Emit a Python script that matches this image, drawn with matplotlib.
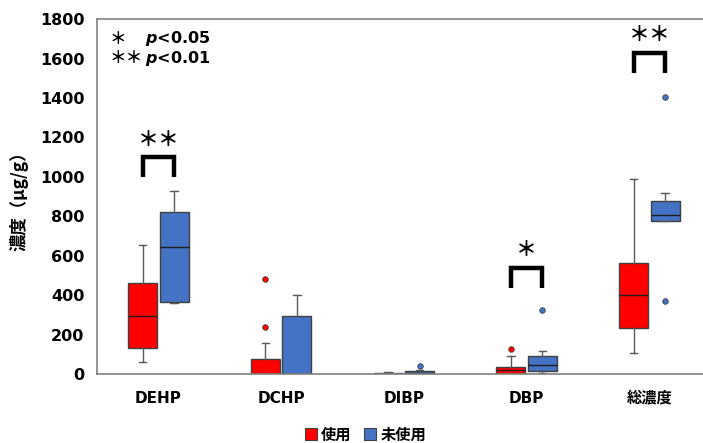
import matplotlib
matplotlib.use("Agg")
import matplotlib.pyplot as plt
from matplotlib.patches import Patch

plt.rcParams['font.family'] = ['DejaVu Sans', 'Noto Sans CJK JP']

categories = ['DEHP', 'DCHP', 'DIBP', 'DBP', '総濃度']
groups = ['使用', '未使用']

# 使用 (used)
used_whislo = [62, 0, 0, 0, 105]
used_q1 = [133, 0, 0, 2, 232]
used_med = [296, 2, 2, 18, 399]
used_q3 = [463, 74, 5, 35, 561]
used_whishi = [654, 156, 12, 90, 987]
used_fliers = [[], [238, 483], [], [127], []]

# 未使用 (unused)
unused_whislo = [358, 0, 0, 3, 774]
unused_q1 = [367, 0, 2, 15, 777]
unused_med = [642, 2, 6, 44, 806]
unused_q3 = [821, 294, 15, 90, 877]
unused_whishi = [930, 402, 20, 115, 919]
unused_fliers = [[], [], [42], [323], [370, 1403]]

# significance brackets: (category index, bracket top value, label)
sig_cats = [0, 3, 4]
sig_tops = [1099, 537, 1629]
sig_labels = ['＊＊', '＊', '＊＊']

yticks = [0, 200, 400, 600, 800, 1000, 1200, 1400, 1600, 1800]

RED = '#FF0000'
BLUE = '#4472C4'
EDGE = '#404040'

fig = plt.figure(figsize=(7.03, 4.43), dpi=100)
ax = fig.add_axes([0.138, 0.1558, 0.873, 0.801])

def stats(wl, q1, med, q3, wh, fl):
    return [dict(whislo=a, q1=b, med=c, q3=d, whishi=e, fliers=f)
            for a, b, c, d, e, f in zip(wl, q1, med, q3, wh, fl)]

off = 0.128
w = 0.236
xs = list(range(len(categories)))
for st, color, sign in [
        (stats(used_whislo, used_q1, used_med, used_q3, used_whishi, used_fliers), RED, -1),
        (stats(unused_whislo, unused_q1, unused_med, unused_q3, unused_whishi, unused_fliers), BLUE, 1)]:
    ax.bxp(st, positions=[x + sign * off for x in xs], widths=w, patch_artist=True,
           showfliers=True, capwidths=0.06,
           boxprops=dict(facecolor=color, edgecolor=EDGE, linewidth=1.0),
           medianprops=dict(color='#202020', linewidth=1.0),
           whiskerprops=dict(color='#595959', linewidth=1.0),
           capprops=dict(color='#595959', linewidth=1.0),
           flierprops=dict(marker='o', markerfacecolor=color, markeredgecolor=EDGE,
                           markersize=4, markeredgewidth=0.6))

ax.set_xlim(-0.5, 4.5)
ax.set_ylim(0, 1800)
ax.set_yticks(yticks)
ax.set_yticklabels([str(v) for v in yticks], fontsize=11.5, fontweight='bold')
ax.set_xticks(xs)
ax.set_xticklabels(categories, fontsize=11, fontweight='bold',
                   family=['DejaVu Sans', 'Noto Sans CJK JP'])
ax.tick_params(axis='both', length=0, pad=9)
ax.tick_params(axis='x', pad=12)
for s in ['left', 'top', 'bottom', 'right']:
    ax.spines[s].set_color('#808080')
    ax.spines[s].set_linewidth(1.2)

ax.set_ylabel('濃度（μg/g）', fontsize=12.5, fontweight='bold',
              family=['Noto Sans CJK JP', 'DejaVu Sans'], labelpad=8)

# significance brackets
for ci, top, lab in zip(sig_cats, sig_tops, sig_labels):
    x0, x1 = ci - off, ci + off
    ax.plot([x0, x0, x1, x1], [top - 100, top, top, top - 100], color='black',
            linewidth=3.2, solid_joinstyle='miter', solid_capstyle='butt')
    ax.text(ci, top + 40, lab, ha='center', va='bottom', fontsize=15, fontweight='bold',
            family=['Noto Sans CJK JP', 'DejaVu Sans'])

# p-value legend text
ax.text(0.02, 0.945, '＊', transform=ax.transAxes, fontsize=12, fontweight='bold',
        family=['Noto Sans CJK JP'], ha='left', va='center')
ax.text(0.078, 0.945, r'$\boldsymbol{p}$<0.05', transform=ax.transAxes, fontsize=11.5,
        fontweight='bold', ha='left', va='center')
ax.text(0.02, 0.89, '＊＊', transform=ax.transAxes, fontsize=12, fontweight='bold',
        family=['Noto Sans CJK JP'], ha='left', va='center')
ax.text(0.078, 0.89, r'$\boldsymbol{p}$<0.01', transform=ax.transAxes, fontsize=11.5,
        fontweight='bold', ha='left', va='center')

handles = [Patch(facecolor=RED, edgecolor=EDGE, linewidth=0.8),
           Patch(facecolor=BLUE, edgecolor=EDGE, linewidth=0.8)]
leg = fig.legend(handles, groups, loc='lower center', bbox_to_anchor=(0.52, -0.03), ncol=2,
                 frameon=False, handlelength=0.8, handleheight=0.8, handletextpad=0.3,
                 columnspacing=0.8,
                 prop=dict(family=['Noto Sans CJK JP'], weight='bold', size=11))

fig.savefig('out.png', dpi=100)
